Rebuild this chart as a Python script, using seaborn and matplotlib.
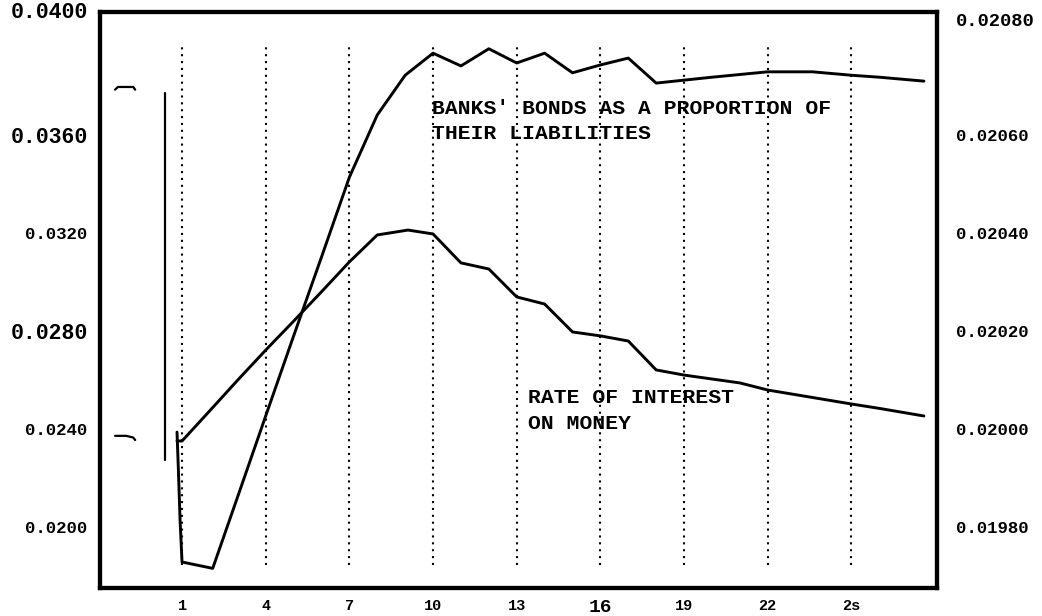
import numpy as np
import matplotlib
matplotlib.use("Agg")
import matplotlib.pyplot as plt
import pandas as pd
import seaborn as sns

# --- data ---
interest_period = [0.82, 1, 2, 3, 4, 5, 6, 7, 8, 9.1, 10, 11, 12, 13, 14, 15, 16, 17,
                   18, 19, 20, 21, 22, 23, 24, 25, 26, 27.6]
interest_rate = [0.02351, 0.02351, 0.02475, 0.02600, 0.02722, 0.02840, 0.02960, 0.03082,
                 0.03192, 0.03212, 0.03196, 0.03078, 0.03053, 0.02939, 0.02910, 0.02796,
                 0.02780, 0.02759, 0.02641, 0.02620, 0.02604, 0.02588, 0.02559, 0.02540,
                 0.02521, 0.02502, 0.02484, 0.02453]

bonds_period = [0.82, 0.87, 0.93, 1.0, 2.1, 3, 4, 5, 6, 7, 8, 9, 10, 11, 12, 13, 14, 15,
                16, 17, 18, 19, 20, 22, 23.6, 25, 26, 27.6]
bonds_share = [0.019994, 0.019916, 0.019814, 0.019729, 0.019716, 0.019863, 0.020027,
               0.020190, 0.020351, 0.020514, 0.020641, 0.020722, 0.020767, 0.020741,
               0.020776, 0.020747, 0.020767, 0.020727, 0.020743, 0.020757, 0.020706,
               0.020712, 0.020718, 0.020729, 0.020729, 0.020722, 0.020718, 0.020710]

x_ticks = [1, 4, 7, 10, 13, 16, 19, 22, 25]
x_labels = ["1", "4", "7", "10", "13", "16", "19", "22", "2s"]
left_ticks = [0.0200, 0.0240, 0.0280, 0.0320, 0.0360]
left_labels = ["0.0200", "0.0240", "0.0280", "0.0320", "0.0360"]
left_big = [False, False, True, False, True]
right_ticks = [0.0198, 0.0200, 0.0202, 0.0204, 0.0206]
right_labels = ["0.01980", "0.02000", "0.02020", "0.02040", "0.02060"]

# stray marks on the scan (left of the curves)
stray_bar_x = [0.39, 0.39]
stray_bar_y = [0.03771, 0.02273]
hook_top_x = [-1.40, -1.30, -0.75, -0.68]
hook_top_y = [0.03785, 0.03796, 0.03796, 0.03785]
hook_low_x = [-1.40, -1.00, -0.75, -0.68]
hook_low_y = [0.02372, 0.02372, 0.02365, 0.02355]

interest_df = pd.DataFrame({"period": interest_period, "rate": interest_rate})
bonds_df = pd.DataFrame({"period": bonds_period, "share": bonds_share})

sns.set_style("white")
plt.rcParams["font.family"] = ["Liberation Mono", "DejaVu Sans Mono"]
plt.rcParams["text.color"] = "black"
plt.rcParams["xtick.color"] = "black"
plt.rcParams["ytick.color"] = "black"

fig = plt.figure(figsize=(10.42, 6.16), dpi=100)
ax = fig.add_axes([0.096, 0.0455, 0.803, 0.935])
ax2 = ax.twinx()

ax.set_xlim(-1.94, 28.06)
ax.set_ylim(0.01751, 0.04102)
ax2.set_ylim(0.019676, 0.020851)

# dotted period markers
ax.vlines(x_ticks, 0.01845, 0.03959, colors="black", linestyles=(0, (1, 2.3)), linewidth=1.5)

sns.lineplot(data=interest_df, x="period", y="rate", ax=ax, color="black",
             linewidth=2.1, sort=False, estimator=None)
sns.lineplot(data=bonds_df, x="period", y="share", ax=ax2, color="black",
             linewidth=2.1, sort=False, estimator=None)

ax.plot(stray_bar_x, stray_bar_y, color="black", linewidth=1.6)
ax.plot(hook_top_x, hook_top_y, color="black", linewidth=1.6)
ax.plot(hook_low_x, hook_low_y, color="black", linewidth=1.6)

ax.text(9.96, 0.03710, "BANKS' BONDS AS A PROPORTION OF", fontsize=15.4, weight="bold",
        ha="left", va="center")
ax.text(9.96, 0.03608, "THEIR LIABILITIES", fontsize=15.4, weight="bold",
        ha="left", va="center")
ax.text(13.4, 0.02527, "RATE OF INTEREST", fontsize=15.4, weight="bold",
        ha="left", va="center")
ax.text(13.4, 0.02424, "ON MONEY", fontsize=15.4, weight="bold",
        ha="left", va="center")

# axes labels and ticks
ax.set_xlabel("")
ax.set_ylabel("")
ax2.set_ylabel("")
ax.set_xticks(x_ticks)
ax.set_xticklabels(x_labels, fontsize=11, weight="bold")
ax.get_xticklabels()[5].set_fontsize(14)
ax.tick_params(axis="x", length=0, pad=8)

ax.set_yticks(left_ticks)
ax.set_yticklabels(left_labels)
for lab, big in zip(ax.get_yticklabels(), left_big):
    lab.set_fontsize(15.5 if big else 12.5)
    lab.set_fontweight("bold")
ax.tick_params(axis="y", length=0, pad=9)

ax2.set_yticks(right_ticks)
ax2.set_yticklabels(right_labels, fontsize=12.5, weight="bold")
ax2.tick_params(axis="y", length=0, pad=14)

# top labels sit at the frame edge on the scan
ax.annotate("0.0400", xy=(0, 0.0400), xycoords=("axes fraction", "data"),
            xytext=(-9, 18), textcoords="offset points", ha="right", va="center",
            fontsize=15.5, weight="bold")
ax2.annotate("0.02080", xy=(1, 0.0208), xycoords=("axes fraction", "data"),
             xytext=(14, 11), textcoords="offset points", ha="left", va="center",
             fontsize=13.5, weight="bold")

for a in (ax, ax2):
    for side in ["left", "right", "top", "bottom"]:
        a.spines[side].set_color("black")
        a.spines[side].set_linewidth(3)
    a.grid(False)

fig.savefig("out.png", dpi=100)
